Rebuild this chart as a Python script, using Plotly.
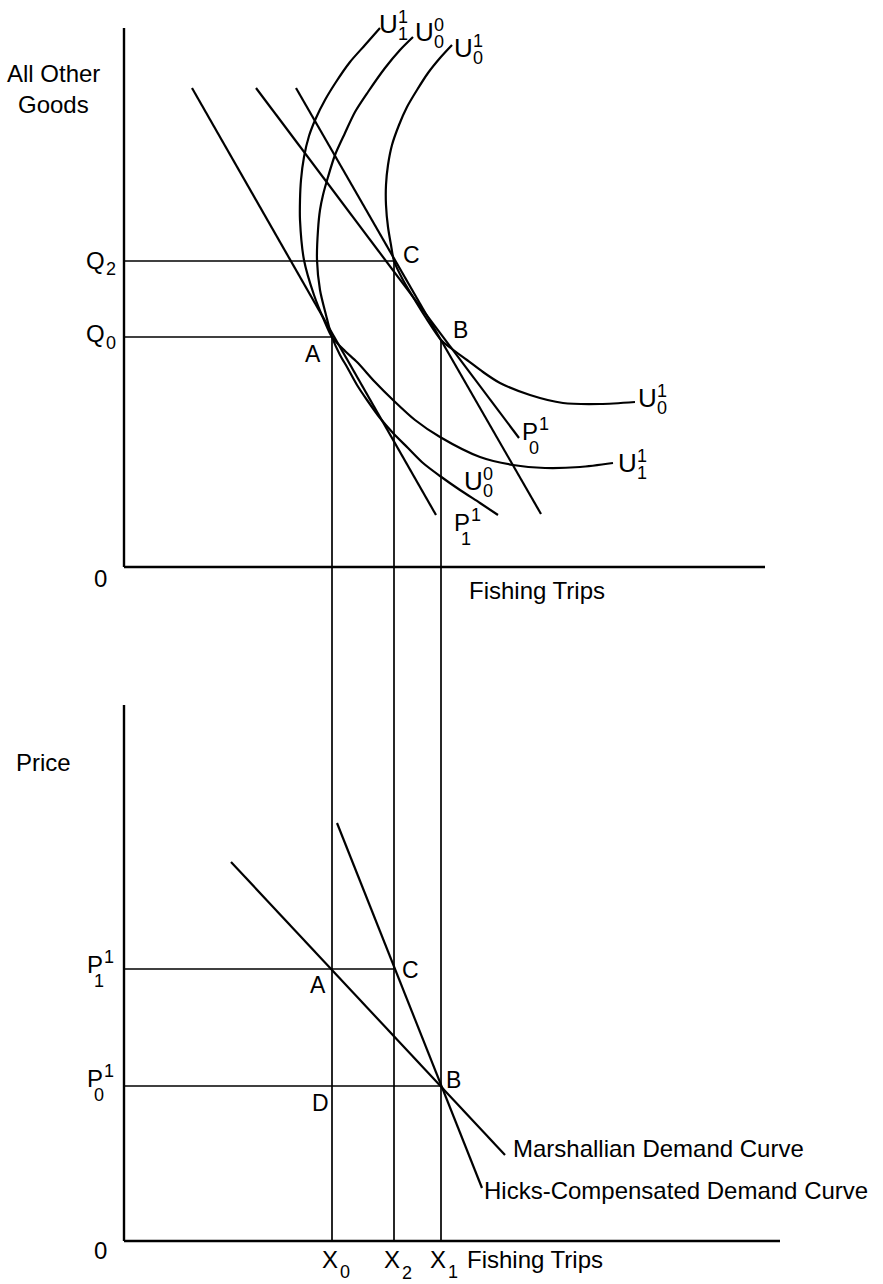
import plotly.graph_objects as go

# ---- diagram coordinates (canvas units, y grows downward) ----
# axes
top_origin = (124, 567)
top_yaxis_top = 28
top_xaxis_end = 765
bot_origin = (124, 1241)
bot_yaxis_top = 705
bot_xaxis_end = 780

# quantities of fishing trips (x) and goods / prices (y)
X0, X2, X1 = 332, 394, 441
Q2, Q0 = 261, 337
PB0 = 340          # goods level at B
P1_level, P0_level = 969, 1086

# budget lines (top panel)
budget_P11_x = [192, 436]
budget_P11_y = [88, 515]
budget_P01_x = [256, 519]
budget_P01_y = [88, 438]
budget_comp_x = [296, 541]
budget_comp_y = [88, 514]

# indifference curves
U11_x = [380, 365, 350, 336, 325, 316, 309, 304, 301, 300, 300, 304, 314, 324, 332, 345, 357, 375, 393, 415, 440, 480, 513, 545, 580, 613]
U11_y = [28, 45, 62, 82, 100, 118, 136, 157, 180, 200, 220, 260, 295, 320, 337, 351, 362, 382, 400, 420, 437, 457, 465, 468, 467, 463]

U00_x = [413, 400, 385, 368, 355, 345, 335, 328, 323, 320, 318, 317, 320, 326, 332, 340, 347, 357, 367, 380, 393, 408, 423, 440, 460, 480, 498]
U00_y = [37, 50, 68, 92, 112, 133, 155, 177, 195, 210, 230, 260, 290, 315, 337, 355, 367, 385, 400, 418, 433, 448, 463, 476, 490, 503, 515]

U01_x = [452, 440, 428, 417, 407, 399, 392, 388, 386, 386, 388, 391, 394, 403, 413, 426, 441, 452, 467, 483, 500, 530, 563, 600, 635]
U01_y = [45, 58, 73, 90, 107, 125, 145, 165, 185, 205, 227, 245, 261, 280, 297, 318, 340, 349, 360, 372, 383, 395, 403, 404, 402]

# demand curves (bottom panel)
marsh_x = [231, 505]
marsh_y = [862, 1155]
hicks_x = [337, 482]
hicks_y = [823, 1188]

BLACK = "black"
FONT = "Liberation Sans, Arial, sans-serif"

fig = go.Figure()


def line(xs, ys, width=2.2, shape="linear"):
    fig.add_trace(go.Scatter(x=xs, y=ys, mode="lines",
                             line=dict(color=BLACK, width=width, shape=shape, smoothing=0.8),
                             hoverinfo="skip", showlegend=False))


# axes
line([top_origin[0], top_origin[0]], [top_yaxis_top, top_origin[1]], 2.4)
line([top_origin[0], top_xaxis_end], [top_origin[1], top_origin[1]], 2.4)
line([bot_origin[0], bot_origin[0]], [bot_yaxis_top, bot_origin[1]], 2.4)
line([bot_origin[0], bot_xaxis_end], [bot_origin[1], bot_origin[1]], 2.4)

# guide lines top
line([top_origin[0], X2], [Q2, Q2], 1.7)
line([top_origin[0], X0], [Q0, Q0], 1.7)
# vertical drop lines
line([X0, X0], [Q0, bot_origin[1]], 1.7)
line([X2, X2], [Q2, bot_origin[1]], 1.7)
line([X1, X1], [PB0, bot_origin[1]], 1.7)
# price guides
line([bot_origin[0], X2], [P1_level, P1_level], 1.7)
line([bot_origin[0], X1], [P0_level, P0_level], 1.7)

# budget lines
line(budget_P11_x, budget_P11_y)
line(budget_P01_x, budget_P01_y)
line(budget_comp_x, budget_comp_y)

# indifference curves
line(U11_x, U11_y, 2.2, "spline")
line(U00_x, U00_y, 2.2, "spline")
line(U01_x, U01_y, 2.2, "spline")

# demand curves
line(marsh_x, marsh_y)
line(hicks_x, hicks_y)

ann = []


def txt(t, x, y, size=24, xanchor="center"):
    ann.append(dict(text=t, x=x, y=y, xref="x", yref="y", showarrow=False,
                    xanchor=xanchor, yanchor="middle",
                    font=dict(family=FONT, size=size, color=BLACK)))


def sym(base, x, y, sup=None, sub=None, size=24, ssize=18, sup_off=(15, -7), sub_off=(15, 10)):
    txt(base, x, y, size)
    if sup is not None:
        txt(sup, x + sup_off[0], y + sup_off[1], ssize)
    if sub is not None:
        txt(sub, x + sub_off[0], y + sub_off[1], ssize)


# axis titles
txt("All Other", 53, 73, 24)
txt("Goods", 53, 104, 24)
txt("Price", 43, 762, 24)
txt("0", 100, 578, 24)
txt("0", 100, 1250, 24)
txt("Fishing Trips", 537, 590, 24)
txt("Fishing Trips", 465, 1259, 24, xanchor="left")

# Q labels
sym("Q", 95, 260, sub="2", sub_off=(16, 9))
sym("Q", 95, 333, sub="0", sub_off=(16, 10))

# point labels top
txt("A", 313, 354, 23)
txt("C", 411, 255, 23)
txt("B", 460, 330, 23)

# U labels top
sym("U", 388, 24, sup="1", sub="1", size=26)
sym("U", 424, 32, sup="0", sub="0", size=26)
sym("U", 463, 48, sup="1", sub="0", size=26)
# right side labels
sym("U", 647, 398, sup="1", sub="0", size=26)
sym("U", 627, 463, sup="1", sub="1", size=26)
sym("U", 473, 481, sup="0", sub="0", size=26)
sym("P", 530, 431, sup="1", sub="0", sup_off=(14, -7), sub_off=(4, 17))
sym("P", 462, 522, sup="1", sub="1", sup_off=(14, -7), sub_off=(4, 17))

# bottom panel labels
sym("P", 95, 964, sup="1", sub="1", sup_off=(14, -7), sub_off=(4, 17))
sym("P", 95, 1078, sup="1", sub="0", sup_off=(14, -7), sub_off=(4, 17))
txt("A", 318, 985, 23)
txt("C", 410, 970, 23)
txt("B", 453, 1080, 23)
txt("D", 320, 1103, 23)
sym("X", 330, 1259, sub="0", sub_off=(15, 13))
sym("X", 392, 1259, sub="2", sub_off=(15, 14))
sym("X", 438, 1259, sub="1", sub_off=(15, 13))
txt("Marshallian Demand Curve", 511, 1148, 24, xanchor="left")
txt("Hicks-Compensated Demand Curve", 482, 1190, 24, xanchor="left")

fig.update_layout(
    width=883, height=1284, autosize=False,
    margin=dict(l=0, r=0, t=0, b=0),
    paper_bgcolor="white", plot_bgcolor="white",
    xaxis=dict(range=[0, 883], visible=False, fixedrange=True),
    yaxis=dict(range=[1284, 0], visible=False, fixedrange=True),
    annotations=ann,
    showlegend=False,
)

fig.write_html("out.html",
               config={"displayModeBar": False},
               post_script="document.body.style.margin='0';document.body.style.overflow='hidden';")
